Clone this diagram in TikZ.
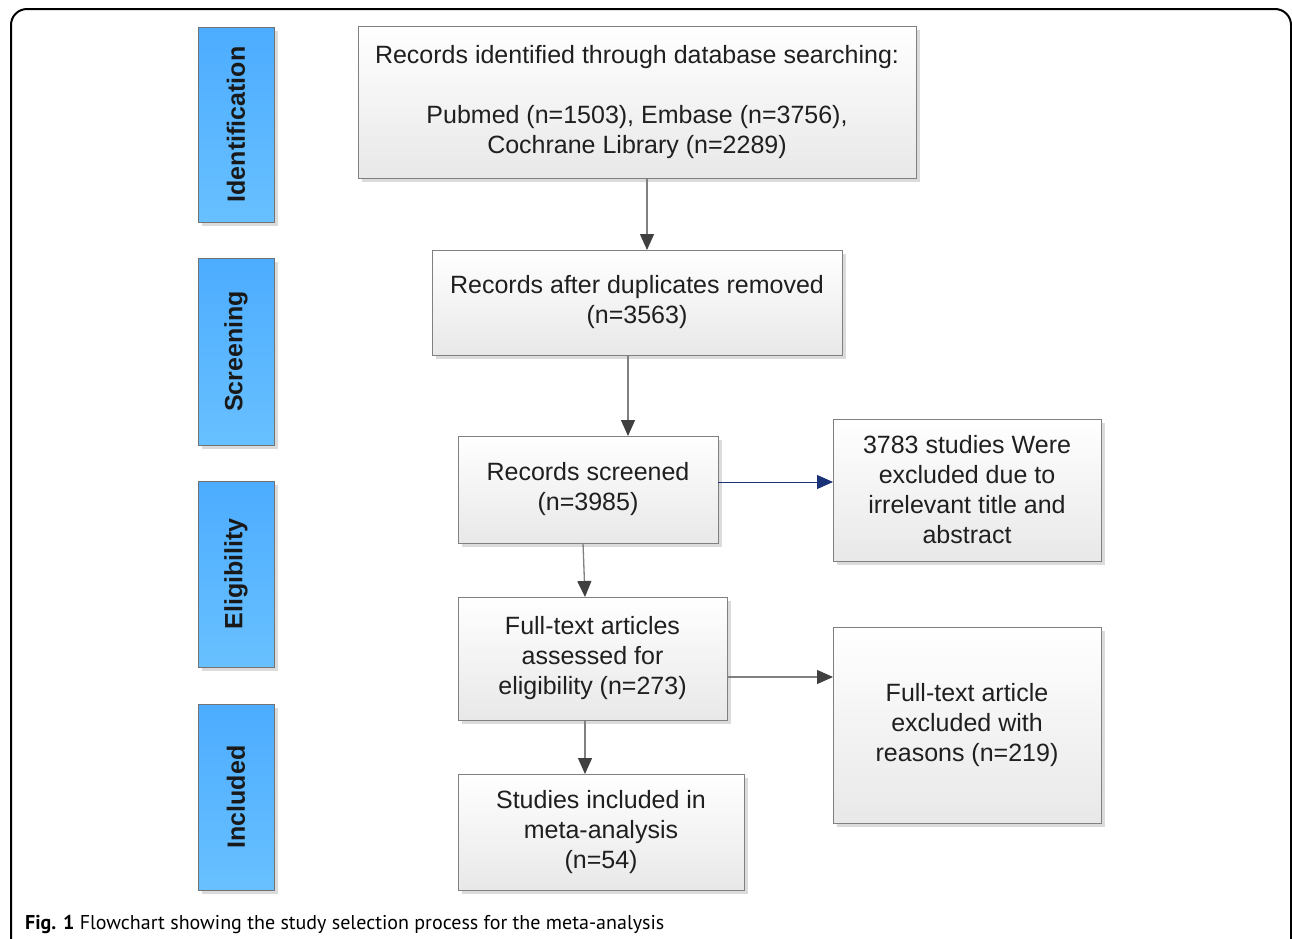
\documentclass[tikz,border=0pt]{standalone}
\usepackage{fontspec}
\setmainfont{Liberation Sans}
\newfontfamily\capfont{PT Sans}
\usetikzlibrary{arrows.meta,shadows}

\begin{document}
\begin{tikzpicture}[
  x=1pt, y=-1pt,
  font=\fontsize{25}{30}\selectfont,
  box/.style={draw=black!50, line width=1pt, align=center, outer sep=0pt,
              top color=white, bottom color=black!9, text=black!88,
              drop shadow={shadow xshift=4pt, shadow yshift=-4pt, fill=black!14, opacity=1}},
  phase/.style={draw=black!55, line width=1pt, outer sep=0pt, minimum width=76pt,
                top color={rgb,255:red,76;green,172;blue,255},
                bottom color={rgb,255:red,104;green,192;blue,255},
                font=\fontsize{25}{30}\selectfont\bfseries, text=black!90,
                drop shadow={shadow xshift=4pt, shadow yshift=-4pt, fill=black!14, opacity=1}},
  fl/.style={-{Triangle[length=16pt, width=14pt, color=black!75]}, draw=black!50, line width=1.3pt},
  bl/.style={-{Triangle[length=16pt, width=14pt]}, draw={rgb,255:red,25;green,50;blue,120}, line width=1pt},
]
  \useasboundingbox (0,0) rectangle (1292,938);

  %=================== frame ===================
  \draw[line width=2pt, rounded corners=16pt] (11,960) |- (1291,9) -- (1291,960);

  %=================== phases ===================
  \node[phase, minimum height=195pt] (ident) at (236,124.5) {\rotatebox{90}{Identification}};
  \node[phase, minimum height=187pt] (screen) at (236,351.5) {\rotatebox{90}{Screening}};
  \node[phase, minimum height=186pt] (elig) at (236,574) {\rotatebox{90}{Eligibility}};
  \node[phase, minimum height=186pt] (incl) at (236,797) {\rotatebox{90}{Included}};

  %=================== flow boxes ===================
  \node[box, minimum width=558pt, minimum height=152pt] (found) at (637,102)
       {Records identified through database searching:\\[30pt]Pubmed (n=1503), Embase (n=3756),\\Cochrane Library (n=2289)};
  \node[box, minimum width=410pt, minimum height=105pt] (dedup) at (637,302.5)
       {Records after duplicates removed\\(n=3563)};
  \node[box, minimum width=260pt, minimum height=107pt] (screened) at (588,489.5)
       {Records screened\\(n=3985)};
  \node[box, minimum width=268pt, minimum height=142pt] (excl1) at (967,490)
       {3783 studies Were\\excluded due to\\irrelevant title and\\abstract};
  \node[box, minimum width=269pt, minimum height=123pt] (fulltext) at (592.5,658.5)
       {Full-text articles\\assessed for\\eligibility (n=273)};
  \node[box, minimum width=268pt, minimum height=196pt] (excl2) at (967,725)
       {Full-text article\\excluded with\\reasons (n=219)};
  \node[box, minimum width=286pt, minimum height=116pt] (meta) at (601,832)
       {Studies included in\\meta-analysis\\(n=54)};

  %=================== arrows ===================
  \draw[fl] ([xshift=10pt]found.south) -- ([xshift=10pt]dedup.north);
  \draw[fl] ([xshift=-9pt]dedup.south) -- ([xshift=40pt]screened.north);
  \draw[fl] ([xshift=-5pt]screened.south) -- ([xshift=-7.5pt]fulltext.north);
  \draw[fl] ([xshift=-7.5pt]fulltext.south) -- ([xshift=-16pt]meta.north);
  \draw[bl] ([yshift=7.5pt]screened.east) -- ([yshift=8pt]excl1.west);
  \draw[fl] ([yshift=-18.5pt]fulltext.east) -- ([yshift=48pt]excl2.west);

  %=================== caption ===================
  \node[anchor=base west, inner sep=0pt, font=\capfont\fontsize{20}{24}\selectfont] (cap) at (25,929)
       {\textbf{Fig. 1} Flowchart showing the study selection process for the meta-analysis};
\end{tikzpicture}
\end{document}
